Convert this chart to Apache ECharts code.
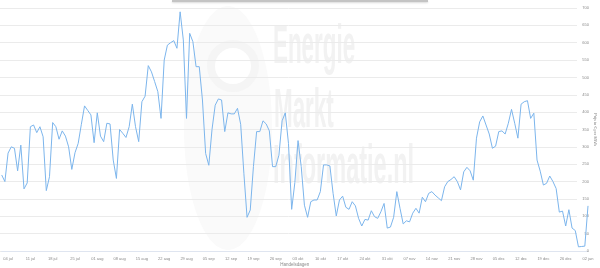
<!DOCTYPE html>
<html><head><meta charset="utf-8">
<script src="https://cdn.jsdelivr.net/npm/echarts@6/dist/echarts.min.js"></script>
<style>html,body{margin:0;padding:0;background:#fff}#c{width:600px;height:268px}</style>
</head><body><div id="c"></div>
<script>
// first trading day shown: 02 jul 2022, one value per day
const startYear = 2022, startMonth = 6, startDay = 2;
const monthNames = ['jan','feb','mrt','apr','mei','jun','jul','aug','sep','okt','nov','dec'];
const prices = [
  219,200,282,300,296,231,305,179,196,358,
  363,341,358,329,174,214,370,358,322,346,
  331,300,235,283,310,365,418,405,392,312,
  398,331,315,368,366,262,209,350,339,327,
  358,423,358,315,430,446,534,516,488,459,
  382,550,593,600,606,584,689,608,382,627,
  603,531,531,435,281,247,350,420,438,435,
  344,398,395,395,411,365,224,97,118,243,
  344,344,375,366,346,243,243,276,375,398,
  310,120,197,318,243,132,97,142,147,147,
  171,248,248,245,166,101,147,158,126,120,
  142,130,94,72,91,89,116,99,94,113,
  137,66,69,97,171,123,78,87,84,109,
  123,109,155,142,166,171,161,153,145,185,
  200,206,214,200,176,228,241,231,204,325,
  372,389,363,337,296,302,344,346,337,368,
  408,368,325,423,430,433,382,397,262,230,
  190,195,216,200,180,112,115,72,119,66,
  59,12,13,14,130
];
const yMin = 0, yMax = 700, yInterval = 50;
const firstLabelIndex = 2, labelEvery = 7;
const xAxisName = 'Handelsdagen';
const yAxisName = 'Prijs in € per MWh';
const watermarkLines = ['Energie', 'Markt', 'Informatie.nl'];

const categories = [];
for (let i = 0; i < prices.length; i++) {
  const d = new Date(Date.UTC(startYear, startMonth, startDay + i));
  categories.push(String(d.getUTCDate()).padStart(2, '0') + ' ' + monthNames[d.getUTCMonth()]);
}

const chart = echarts.init(document.getElementById('c'), null, {renderer: 'canvas'});
const wmFill = '#f2f2f2';
const wmFont = 'bold 56px "Liberation Sans", Arial, sans-serif';
chart.setOption({
  animation: false,
  backgroundColor: '#ffffff',
  graphic: [
    {type: 'ellipse', shape: {cx: 228, cy: 128, rx: 44, ry: 122}, style: {fill: '#fafafa'}, z: -10},
    {type: 'circle', shape: {cx: 233, cy: 66, r: 22}, style: {fill: '#ffffff', stroke: '#f5f5f5', lineWidth: 8}, z: -9},
    {type: 'text', x: 273, y: 48, scaleX: 0.4, z: -8, style: {text: watermarkLines[0], font: wmFont, fill: wmFill, align: 'left', verticalAlign: 'middle'}},
    {type: 'text', x: 274, y: 112, scaleX: 0.4, z: -8, style: {text: watermarkLines[1], font: wmFont, fill: wmFill, align: 'left', verticalAlign: 'middle'}},
    {type: 'text', x: 273, y: 168, scaleX: 0.42, z: -8, style: {text: watermarkLines[2], font: wmFont, fill: wmFill, align: 'left', verticalAlign: 'middle'}},
    {type: 'rect', shape: {x: 172, y: 0, width: 256, height: 2}, style: {fill: '#c4c4c4', shadowBlur: 2, shadowColor: 'rgba(0,0,0,0.15)', shadowOffsetY: 1}, z: 10}
  ],
  grid: [
    {left: 1.7, right: 12, top: 8, bottom: 17, containLabel: false, outerBoundsMode: 'none'},
    {left: 0, right: 23, top: 8, bottom: 17, containLabel: false, outerBoundsMode: 'none'}
  ],
  xAxis: [
    {
      gridIndex: 0, type: 'category', data: categories, boundaryGap: false,
      axisLine: {show: true, lineStyle: {color: '#dfe5f0', width: 1}},
      axisTick: {show: false},
      axisLabel: {
        interval: (i) => (i - firstLabelIndex) % labelEvery === 0 && i >= firstLabelIndex,
        fontSize: 4, color: '#8a8a8a', margin: 6, fontFamily: 'Liberation Sans',
        hideOverlap: false
      },
      splitLine: {show: false},
      name: xAxisName, nameLocation: 'middle', nameGap: 11, nameMoveOverlap: false,
      nameTextStyle: {fontSize: 4.5, color: '#8a8a8a', fontFamily: 'Liberation Sans'}
    },
    {gridIndex: 1, type: 'category', data: categories, boundaryGap: false, show: false}
  ],
  yAxis: [
    {
      gridIndex: 0, type: 'value', position: 'right', min: yMin, max: yMax, interval: yInterval,
      splitLine: {show: false}, axisLine: {show: false}, axisTick: {show: false},
      axisLabel: {fontSize: 4, color: '#8a8a8a', align: 'right', margin: 1, fontFamily: 'Liberation Sans'},
      name: yAxisName, nameLocation: 'middle', nameRotate: -90, nameGap: 5, nameMoveOverlap: false,
      nameTextStyle: {fontSize: 4, color: '#8a8a8a', fontFamily: 'Liberation Sans'}
    },
    {
      gridIndex: 1, type: 'value', min: yMin, max: yMax, interval: yInterval,
      axisLabel: {show: false}, axisLine: {show: false}, axisTick: {show: false},
      splitLine: {show: true, lineStyle: {color: '#ebebeb', width: 1}}
    }
  ],
  series: [{
    type: 'line', data: prices, xAxisIndex: 0, yAxisIndex: 0,
    showSymbol: false, symbol: 'none', z: 5,
    lineStyle: {color: '#7cb5ec', width: 1}
  }]
});
</script></body></html>
